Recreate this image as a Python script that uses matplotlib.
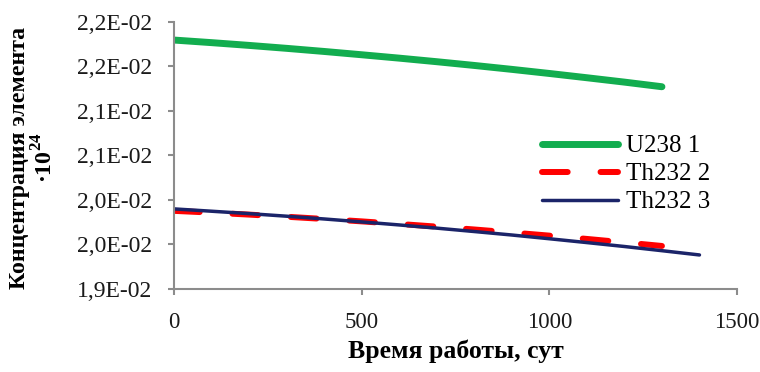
import matplotlib as mp
mp.use('Agg')
import matplotlib.pyplot as plt
from matplotlib.ticker import FixedLocator, FixedFormatter

# values
days = [0, 100, 200, 300, 400, 500, 600, 700, 800, 900, 1000, 1100, 1200, 1300]
days_th3 = [0, 100, 200, 300, 400, 500, 600, 700, 800, 900, 1000, 1100, 1200, 1300, 1400]
u238_1 = [0.021794, 0.021765, 0.021734, 0.021701, 0.021666, 0.021629, 0.021591,
          0.021551, 0.021509, 0.021465, 0.021419, 0.021371, 0.021322, 0.021270]
th232_2 = [0.019877, 0.019857, 0.019835, 0.019811, 0.019786, 0.019759, 0.019730,
           0.019700, 0.019668, 0.019634, 0.019599, 0.019562, 0.019523, 0.019483]
th232_3 = [0.019899, 0.019873, 0.019846, 0.019817, 0.019786, 0.019753, 0.019719,
           0.019683, 0.019645, 0.019606, 0.019564, 0.019521, 0.019477, 0.019430, 0.019382]

x_ticks = [0, 500, 1000, 1500]
y_ticks = [0.0190, 0.0195, 0.0200, 0.0205, 0.0210, 0.0215, 0.0220]
y_tick_labels = ['1,9E-02', '2,0E-02', '2,0E-02', '2,1E-02', '2,1E-02', '2,2E-02', '2,2E-02']

plt.rcParams['font.family'] = 'Liberation Serif'
plt.rcParams['mathtext.fontset'] = 'custom'
plt.rcParams['mathtext.rm'] = 'Liberation Serif'
plt.rcParams['mathtext.bf'] = 'Liberation Serif:bold'

W, H = 760, 372
fig = plt.figure(figsize=(W / 100, H / 100), dpi=100)
ax = fig.add_axes([174 / W, 1 - 289 / H, (737 - 174) / W, (289 - 21.7) / H])

ax.plot(days, u238_1, color='#12ad4f', lw=5, solid_capstyle='round', label='U238 1')
ax.plot(days, th232_2, color='#ff0000', lw=4.3, dashes=(4.3, 5.5),
        dash_capstyle='round', label='Th232 2')
ax.plot(days_th3, th232_3, color='#1b2469', lw=2.5, solid_capstyle='round', label='Th232 3')

ax.set_xlim(0, 1500)
ax.set_ylim(0.019, 0.022)
ax.xaxis.set_major_locator(FixedLocator(x_ticks))
ax.yaxis.set_major_locator(FixedLocator(y_ticks))
ax.yaxis.set_major_formatter(FixedFormatter(y_tick_labels))

for s in ['top', 'right']:
    ax.spines[s].set_visible(False)
for s in ['left', 'bottom']:
    ax.spines[s].set_color('#8c8c8c')
    ax.spines[s].set_linewidth(1.5)
ax.tick_params(axis='both', colors='#8c8c8c', width=1.5, length=4.5, labelcolor='#1a1a1a')
ax.tick_params(axis='x', pad=12, labelsize=16.5)
ax.tick_params(axis='y', pad=11, labelsize=17)

ax.set_xlabel('Время работы, сут', fontsize=18.5, fontweight='bold', labelpad=5)
fig.text(33 / W, 1 - 158 / H, 'Концентрация элемента\n·10$^{\\mathbf{24}}$', rotation=90,
         ha='center', va='center', fontsize=17.2, fontweight='bold', multialignment='center',
         linespacing=1.1)

ax.legend(loc='upper left', bbox_to_anchor=(542 / W, 1 - 135 / H),
          bbox_transform=fig.transFigure, frameon=False, fontsize=18,
          handlelength=3.05, handletextpad=0.32, labelspacing=0.22, borderpad=0,
          borderaxespad=0)

plt.savefig('out.png', dpi=100)
